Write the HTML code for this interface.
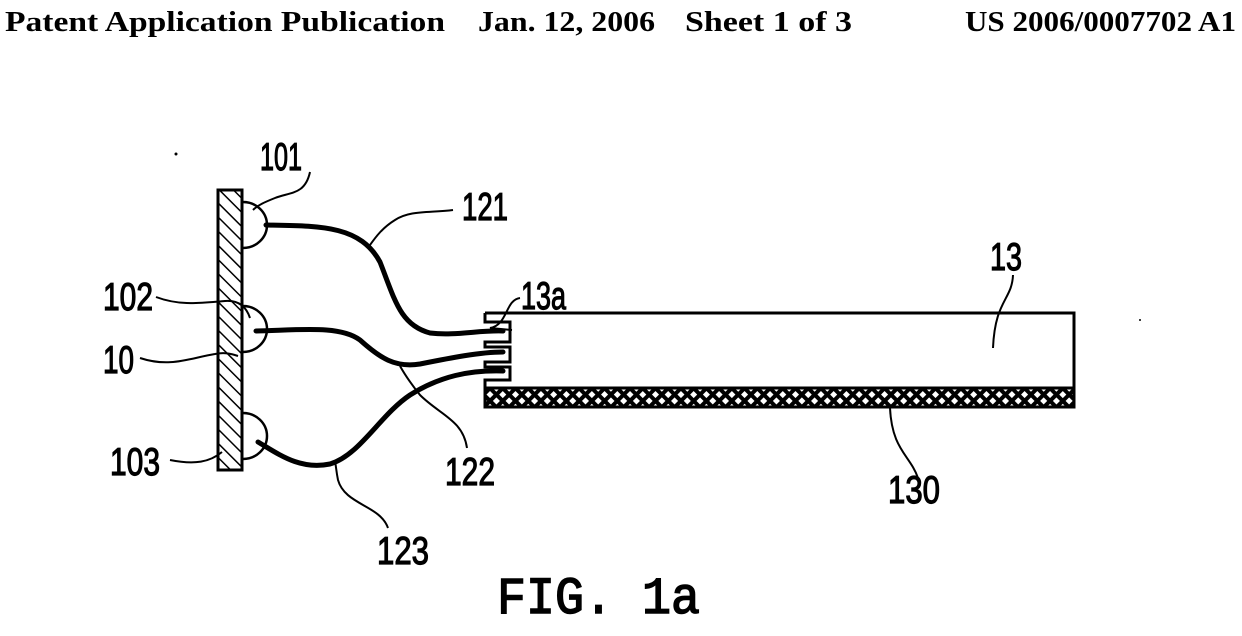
<!DOCTYPE html>
<html><head><meta charset="utf-8"><style>
html,body{margin:0;padding:0;background:#fff;}
svg{display:block;}
.h{font-family:"Liberation Serif",serif;font-weight:bold;font-size:28px;}
.l{font-family:"Liberation Sans",sans-serif;font-size:39px;stroke:#000;stroke-width:1.2;}
</style></head><body>
<svg width="1242" height="636" viewBox="0 0 1242 636" xmlns="http://www.w3.org/2000/svg">
<defs>
<pattern id="diag" width="10" height="10" patternUnits="userSpaceOnUse" patternTransform="rotate(-45)">
<rect width="10" height="10" fill="#fff"/><line x1="0" y1="0" x2="0" y2="10" stroke="#000" stroke-width="3"/>
</pattern>
<pattern id="cross" width="9" height="9" patternUnits="userSpaceOnUse" patternTransform="rotate(45)">
<rect width="9" height="9" fill="#000"/><rect x="2" y="2" width="5" height="5" fill="#fff"/>
</pattern>
</defs>
<g class="h">
<text x="5" y="31" textLength="440" lengthAdjust="spacingAndGlyphs">Patent Application Publication</text>
<text x="478" y="31" textLength="177" lengthAdjust="spacingAndGlyphs">Jan. 12, 2006</text>
<text x="685" y="31" textLength="167" lengthAdjust="spacingAndGlyphs">Sheet 1 of 3</text>
<text x="965" y="31" textLength="271" lengthAdjust="spacingAndGlyphs">US 2006/0007702 A1</text>
</g>
<circle cx="176" cy="154" r="1.5" fill="#000"/>
<circle cx="1140" cy="320" r="1" fill="#000"/>
<rect x="218" y="190" width="24" height="280" fill="url(#diag)" stroke="#000" stroke-width="3"/>
<g fill="none" stroke="#000" stroke-width="2.5">
<path d="M243,202 A24,23 0 0 1 243,248"/>
<path d="M243,306 A24,23 0 0 1 243,352"/>
<path d="M243,413 A24,23 0 0 1 243,459"/>
</g>
<g fill="none" stroke="#000" stroke-width="5" stroke-linecap="round">
<path d="M266,225 C320,226 360,225 380,262 C395,300 400,325 430,333 C455,336 480,330 503,331"/>
<path d="M256,331 C300,330 340,325 360,340 C380,358 395,368 420,364 C450,358 480,352 503,352"/>
<path d="M258,442 C280,455 300,470 330,464 C360,455 380,415 410,395 C440,376 470,370 503,371"/>
</g>
<path d="M485,313 H1074 V388 H485" fill="none" stroke="#000" stroke-width="3"/>
<rect x="485" y="388" width="589" height="19" fill="url(#cross)" stroke="#000" stroke-width="3"/>
<path d="M485,313 V322 H510 V342 H485 V347 H510 V362 H485 V367 H510 V380 H485 V388" fill="none" stroke="#000" stroke-width="3"/>
<g fill="none" stroke="#000" stroke-width="2">
<path d="M310,172 C305,195 290,192 275,198 C265,202 258,205 253,210"/>
<path d="M453,210 C430,213 410,210 395,220 C382,228 375,238 370,245"/>
<path d="M156,297 C180,306 200,303 225,301 C238,300 246,306 250,318"/>
<path d="M140,358 C170,368 190,358 215,354 C225,352 232,354 238,356"/>
<path d="M170,460 C195,465 210,462 222,452"/>
<path d="M467,448 C463,420 440,415 420,395 C412,385 405,375 400,366"/>
<path d="M388,528 C380,505 345,505 338,480 C336,470 336,465 335,462"/>
<path d="M520,298 C505,300 508,325 490,328 L512,330"/>
<path d="M1013,275 C1012,300 995,300 993,348"/>
<path d="M918,478 C910,455 892,450 890,408"/>
</g>
<g class="l">
<text x="260" y="170" textLength="42" lengthAdjust="spacingAndGlyphs">101</text>
<text x="462" y="220" textLength="46" lengthAdjust="spacingAndGlyphs">121</text>
<text x="103" y="310" textLength="50" lengthAdjust="spacingAndGlyphs">102</text>
<text x="103" y="373" textLength="31" lengthAdjust="spacingAndGlyphs">10</text>
<text x="110" y="475" textLength="50" lengthAdjust="spacingAndGlyphs">103</text>
<text x="445" y="485" textLength="50" lengthAdjust="spacingAndGlyphs">122</text>
<text x="377" y="564" textLength="52" lengthAdjust="spacingAndGlyphs">123</text>
<text x="521" y="309" textLength="45" lengthAdjust="spacingAndGlyphs">13a</text>
<text x="990" y="270" textLength="32" lengthAdjust="spacingAndGlyphs">13</text>
<text x="888" y="503" textLength="52" lengthAdjust="spacingAndGlyphs">130</text>
</g>
<text x="497" y="613" font-family="Liberation Mono, monospace" font-size="52" stroke="#000" stroke-width="1.5" textLength="203" lengthAdjust="spacingAndGlyphs">FIG. 1a</text>
</svg>
</body></html>
